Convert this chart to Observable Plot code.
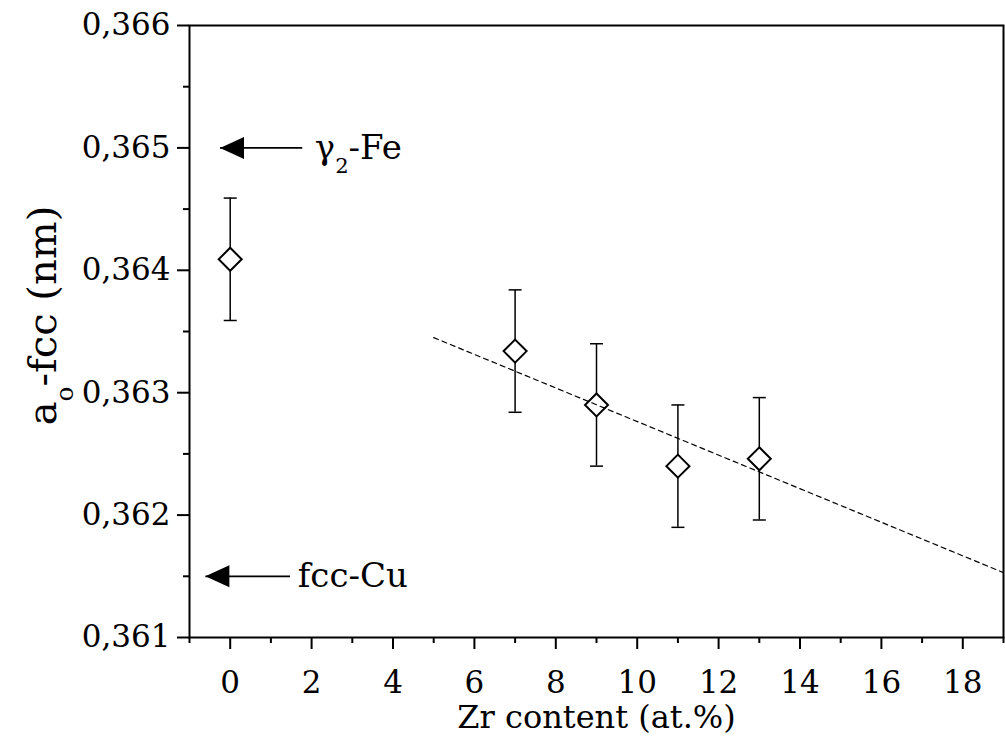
<!DOCTYPE html>
<html><head><meta charset="utf-8">
<script src="https://cdn.jsdelivr.net/npm/d3@7"></script>
<script src="https://cdn.jsdelivr.net/npm/@observablehq/plot@0.6"></script>
<style>body{margin:0;background:#fff;}</style>
</head><body><div id="chart"></div>
<script>
// ---- data ----
const zr = [0, 7, 9, 11, 13];
const lattice = [0.36409, 0.36334, 0.36290, 0.36240, 0.36246];
const latticeErr = [0.0005, 0.0005, 0.0005, 0.0005, 0.0005];
const fitZr = [5, 19];
const fitLattice = [0.36345, 0.36153];
const refLabels = ["γ_2-Fe", "fcc-Cu"];
const refLattice = [0.365, 0.3615];
const refArrowTip = [-0.25, -0.61];
const refArrowTail = [1.77, 1.47];
const refLabelX = [2.08, 1.66];
const xMajorTicks = [0, 2, 4, 6, 8, 10, 12, 14, 16, 18];
const xMinorTicks = [-1, 1, 3, 5, 7, 9, 11, 13, 15, 17, 19];
const yMajorTicks = [0.361, 0.362, 0.363, 0.364, 0.365, 0.366];
const yMinorTicks = [0.3615, 0.3625, 0.3635, 0.3645, 0.3655];
const xLabel = "Zr content (at.%)";
const yLabel = "a_o-fcc (nm)";

// ---- tables ----
const points = zr.map((x, i) => ({x, y: lattice[i], lo: lattice[i] - latticeErr[i], hi: lattice[i] + latticeErr[i]}));
const fit = fitZr.map((x, i) => ({x, y: fitLattice[i]}));
const refs = refLabels.map((label, i) => ({label, y: refLattice[i], tip: refArrowTip[i], tail: refArrowTail[i], lx: refLabelX[i]}));

const diamondSym = {draw(ctx) { const r = 11.5; ctx.moveTo(0, -r); ctx.lineTo(r, 0); ctx.lineTo(0, r); ctx.lineTo(-r, 0); ctx.closePath(); }};
const capSym = {draw(ctx) { ctx.moveTo(-6.5, 0); ctx.lineTo(6.5, 0); }};
const headSym = {draw(ctx) { ctx.moveTo(0, 0); ctx.lineTo(24, -11); ctx.lineTo(24, 11); ctx.closePath(); }};

const fmtY = d => d3.format(".3f")(d).replace(".", ",");
const blank = () => "";
const font = "'DejaVu Serif', serif";

const chart = Plot.plot({
  width: 1005,
  height: 739,
  marginLeft: 189,
  marginRight: 2,
  marginTop: 25,
  marginBottom: 102,
  style: {fontFamily: font, color: "black", background: "white"},
  x: {domain: [-1, 19]},
  y: {domain: [0.361, 0.366]},
  marks: [
    Plot.frame({stroke: "black", strokeWidth: 2}),
    Plot.axisX({anchor: "bottom", ticks: xMajorTicks, tickSize: 12, tickFormat: blank, strokeWidth: 2, label: null}),
    Plot.axisX({anchor: "bottom", ticks: xMinorTicks, tickSize: 6, tickFormat: blank, strokeWidth: 2, label: null}),
    Plot.axisX({anchor: "bottom", ticks: xMajorTicks, tickSize: 0, tickPadding: 33, fontSize: 31, label: null}),
    Plot.axisY({anchor: "left", ticks: yMajorTicks, tickSize: 12, tickFormat: blank, strokeWidth: 2, label: null}),
    Plot.axisY({anchor: "left", ticks: yMinorTicks, tickSize: 6, tickFormat: blank, strokeWidth: 2, label: null}),
    Plot.axisY({anchor: "left", ticks: yMajorTicks, tickSize: 0, tickPadding: 19, fontSize: 31, tickFormat: fmtY, label: null}),
    Plot.text([xLabel], {frameAnchor: "bottom", textAnchor: "middle", dy: 80, lineAnchor: "middle", fontSize: 32, fill: "black"}),
    Plot.text([yLabel], {frameAnchor: "left", textAnchor: "middle", dx: -146, dy: -16, rotate: -90, lineAnchor: "middle", fontSize: 40, fill: "black"}),
    // error bars
    Plot.ruleX(points, {x: "x", y1: "lo", y2: "hi", stroke: "black", strokeWidth: 1.5}),
    Plot.dot(points, {x: "x", y: "lo", symbol: capSym, r: 5, stroke: "black", fill: "none", strokeWidth: 1.5}),
    Plot.dot(points, {x: "x", y: "hi", symbol: capSym, r: 5, stroke: "black", fill: "none", strokeWidth: 1.5}),
    // data points
    Plot.dot(points, {x: "x", y: "y", symbol: diamondSym, r: 10, stroke: "black", fill: "white", strokeWidth: 2}),
    // fit line
    Plot.line(fit, {x: "x", y: "y", stroke: "black", strokeWidth: 1.2, strokeDasharray: "5,4"}),
    // reference arrows
    Plot.link(refs, {x1: "tip", x2: "tail", y1: "y", y2: "y", stroke: "black", strokeWidth: 1.8}),
    Plot.dot(refs, {x: "tip", y: "y", symbol: headSym, r: 10, fill: "black", stroke: "none"}),
    Plot.text(refs, {x: "lx", y: "y", text: "label", textAnchor: "start", lineAnchor: "middle", fontSize: 34, fill: "black"})
  ]
});

// subscripts: "_x" -> subscript tspan
chart.querySelectorAll("text").forEach(t => {
  const s = t.textContent;
  const i = s.indexOf("_");
  if (i < 0 || t.querySelector("tspan")) return;
  let fs = parseFloat(t.getAttribute("font-size"));
  if (!fs) { const g = t.closest("[font-size]"); fs = g ? parseFloat(g.getAttribute("font-size")) : 32; }
  const shift = fs * 0.42;
  const ns = "http://www.w3.org/2000/svg";
  t.textContent = "";
  const a = document.createElementNS(ns, "tspan"); a.textContent = s.slice(0, i);
  const b = document.createElementNS(ns, "tspan"); b.textContent = s.slice(i + 1, i + 2);
  b.setAttribute("dy", shift); b.setAttribute("font-size", fs * 0.62);
  const c = document.createElementNS(ns, "tspan"); c.textContent = s.slice(i + 2);
  c.setAttribute("dy", -shift);
  t.append(a, b, c);
});

document.getElementById("chart").append(chart);
</script>
</body></html>
